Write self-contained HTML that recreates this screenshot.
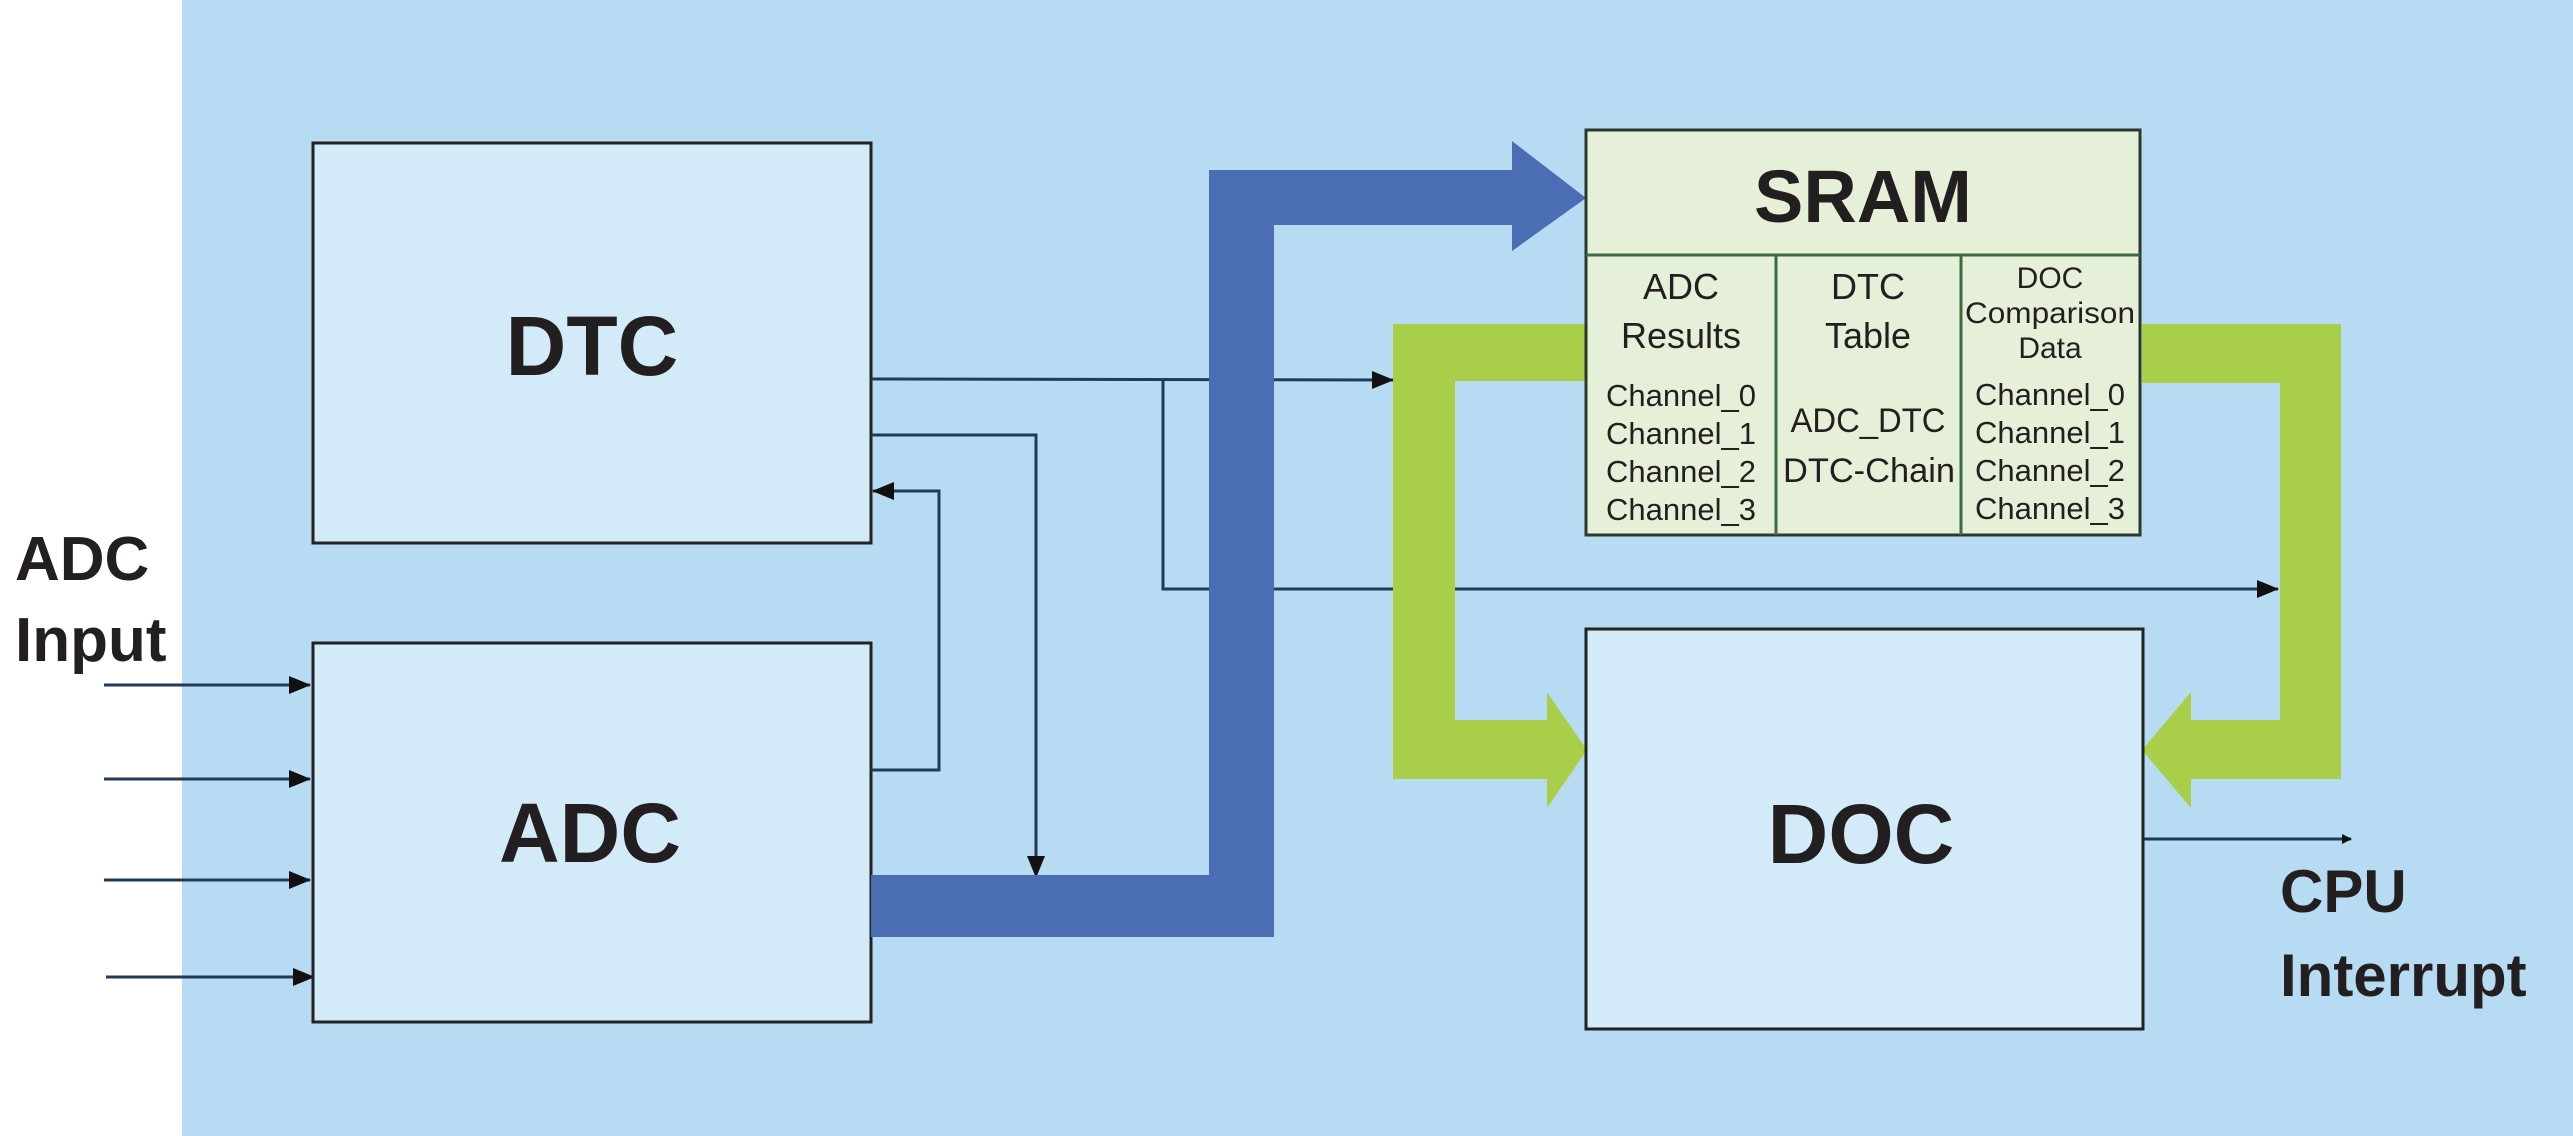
<!DOCTYPE html>
<html><head><meta charset="utf-8"><style>
html,body{margin:0;padding:0;background:#fff}
svg{display:block}
text{font-family:"Liberation Sans",sans-serif;fill:#231f20}
</style></head><body>
<svg width="2573" height="1136" viewBox="0 0 2573 1136" xmlns="http://www.w3.org/2000/svg">
<defs>
<marker id="ah" markerWidth="10" markerHeight="10" refX="9" refY="5" orient="auto" markerUnits="userSpaceOnUse">
<path d="M0,0 L10,5 L0,10 z" fill="#111"/></marker>
<marker id="ahb" markerWidth="22" markerHeight="18" refX="21" refY="9" orient="auto" markerUnits="userSpaceOnUse">
<path d="M0,0 L22,9 L0,18 z" fill="#111"/></marker>
</defs>
<rect x="0" y="0" width="2573" height="1136" fill="#ffffff"/>
<rect x="182" y="0" width="2391" height="1136" fill="#b7dbf2"/>

<!-- ADC input -->
<text x="15" y="580" font-size="62" font-weight="bold">ADC</text>
<text x="15" y="661" font-size="62" font-weight="bold">Input</text>
<g stroke="#1f3a5a" stroke-width="3">
<line x1="104" y1="685" x2="310" y2="685" marker-end="url(#ahb)"/>
<line x1="104" y1="779" x2="310" y2="779" marker-end="url(#ahb)"/>
<line x1="104" y1="880" x2="310" y2="880" marker-end="url(#ahb)"/>
<line x1="106" y1="977" x2="314" y2="977" marker-end="url(#ahb)"/>
</g>

<!-- DTC / ADC boxes -->
<rect x="313" y="143" width="558" height="400" fill="#d3eaf8" stroke="#222" stroke-width="3"/>
<rect x="313" y="643" width="558" height="379" fill="#d3eaf8" stroke="#222" stroke-width="3"/>
<text x="592" y="375" font-size="84" font-weight="bold" text-anchor="middle">DTC</text>
<text x="590" y="862" font-size="84" font-weight="bold" text-anchor="middle">ADC</text>

<!-- thin connectors -->
<g fill="none" stroke="#1f3a5a" stroke-width="3">
<polyline points="871,379 1393,380" marker-end="url(#ahb)"/>
<polyline points="1163,380 1163,589 2278,589" marker-end="url(#ahb)"/>
<polyline points="871,435 1036,435 1036,877" marker-end="url(#ahb)"/>
<polyline points="871,770 939,770 939,491 873,491" marker-end="url(#ahb)"/>
<polyline points="2143,839 2351,839" marker-end="url(#ah)"/>
</g>

<!-- blue bus -->
<path d="M871,875 L1209,875 L1209,170 L1512,170 L1512,141 L1586,198 L1512,251 L1512,225 L1274,225 L1274,937 L871,937 Z" fill="#4a6db4"/>

<!-- green arrows -->
<path d="M1586,324 L1393,324 L1393,779 L1547,779 L1547,808 L1587,750 L1547,692 L1547,720 L1455,720 L1455,381 L1586,381 Z" fill="#a9cf4a"/>
<path d="M2142,324 L2341,324 L2341,779 L2191,779 L2191,808 L2142,750 L2191,692 L2191,720 L2280,720 L2280,383 L2142,383 Z" fill="#a9cf4a"/>

<!-- SRAM -->
<rect x="1586" y="130" width="554" height="405" fill="#e6f0d8" stroke="#2a3a2a" stroke-width="3"/>
<g stroke="#3d6b3d" stroke-width="3">
<line x1="1586" y1="255" x2="2140" y2="255"/>
<line x1="1776" y1="255" x2="1776" y2="535"/>
<line x1="1961" y1="255" x2="1961" y2="535"/>
</g>
<text x="1863" y="222" font-size="74" font-weight="bold" text-anchor="middle">SRAM</text>
<g font-size="36" text-anchor="middle">
<text x="1681" y="299">ADC</text>
<text x="1681" y="348">Results</text>
<text x="1868" y="299">DTC</text>
<text x="1868" y="348">Table</text>
</g>
<g font-size="30" text-anchor="middle">
<text x="2050" y="288">DOC</text>
<text x="2050" y="323" textLength="170" lengthAdjust="spacingAndGlyphs">Comparison</text>
<text x="2050" y="358">Data</text>
</g>
<g font-size="31" text-anchor="middle">
<text x="1681" y="406">Channel_0</text>
<text x="1681" y="444">Channel_1</text>
<text x="1681" y="482">Channel_2</text>
<text x="1681" y="520">Channel_3</text>
<text x="2050" y="405">Channel_0</text>
<text x="2050" y="443">Channel_1</text>
<text x="2050" y="481">Channel_2</text>
<text x="2050" y="519">Channel_3</text>
</g>
<g font-size="34" text-anchor="middle">
<text x="1868" y="432" textLength="155" lengthAdjust="spacingAndGlyphs">ADC_DTC</text>
<text x="1869" y="482" textLength="172" lengthAdjust="spacingAndGlyphs">DTC-Chain</text>
</g>

<!-- DOC -->
<rect x="1586" y="629" width="557" height="400" fill="#d3eaf8" stroke="#222" stroke-width="3"/>
<text x="1861" y="863" font-size="84" font-weight="bold" text-anchor="middle">DOC</text>

<text x="2280" y="912" font-size="60" font-weight="bold">CPU</text>
<text x="2280" y="996" font-size="60" font-weight="bold">Interrupt</text>
</svg>
</body></html>
